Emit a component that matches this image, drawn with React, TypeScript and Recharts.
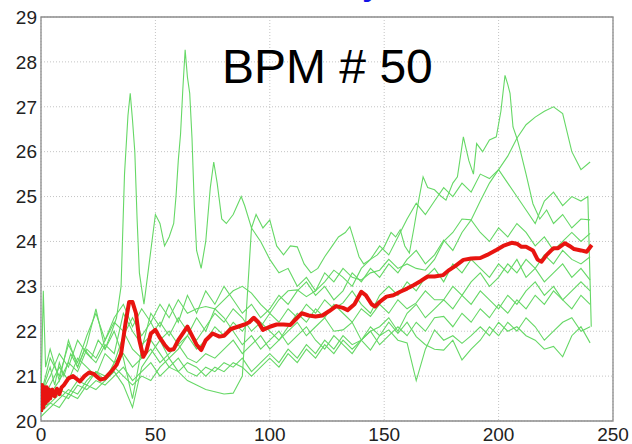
import React from 'react';
import { LineChart, Line, XAxis, YAxis, CartesianGrid, ReferenceArea } from 'recharts';

const X_TICKS = [0, 50, 100, 150, 200, 250];
const Y_TICKS = [20, 21, 22, 23, 24, 25, 26, 27, 28, 29];
const TITLE = 'BPM # 50';
const TOP_TEXT = 'Stability';

const X4 = [0, 4, 8, 12, 16, 20, 24, 28, 32, 36, 40, 44, 48, 52, 56, 60, 64, 68, 72, 76, 80, 84, 88, 92, 96, 100, 104, 108, 112, 116, 120, 124, 128, 132, 136, 140, 144, 148, 152, 156, 160, 164, 168, 172, 176, 180, 184, 188, 192, 196, 200, 204, 208, 212, 216, 220, 224, 228, 232, 236, 240];

const G1_X = [0, 2, 4, 6, 8, 10, 13, 16, 19, 22, 25, 28, 31, 33, 35, 36.5, 38, 39, 40, 41, 42, 43, 45, 47, 50, 52, 54, 56, 58, 59, 60, 61, 62, 63, 64, 65, 66, 67, 68, 70, 72, 74, 75.5, 77, 79, 81, 84, 87.5, 89, 92, 94, 97, 100, 103, 106, 109, 112, 115, 118, 121, 124, 127, 130, 133, 135, 137, 139, 141, 144, 147, 150, 153, 155, 157, 159, 161, 163, 165, 167, 169, 172, 175, 177, 180, 182, 184.6, 187, 189, 190.4, 193, 196, 199, 201, 202.8, 204, 205, 206.3, 208, 209.4, 212, 215, 218, 221, 224, 228, 232, 236, 240];
const G1_Y = [20.5, 20.9, 21.2, 20.8, 21.3, 21.0, 21.5, 21.2, 21.6, 21.4, 21.8, 21.6, 22.0, 22.3, 23.0, 25.5, 26.8, 27.3, 26.7, 26.0, 24.5, 23.3, 22.6, 23.4, 24.6, 24.4, 23.9, 24.1, 24.4, 25.0, 25.8, 26.4, 27.4, 28.27, 27.66, 27.3, 26.3, 24.8, 23.8, 23.4, 24.0, 25.2, 25.77, 25.3, 24.5, 24.4, 24.6, 25.0, 24.8, 24.3, 24.6, 24.3, 24.48, 23.9, 23.7, 23.9, 23.88, 23.5, 23.3, 23.4, 23.66, 23.88, 24.1, 24.2, 24.33, 24.0, 23.66, 23.5, 23.6, 23.7, 23.88, 24.2, 24.1, 24.26, 23.9, 23.74, 24.3, 24.9, 25.44, 25.2, 25.15, 25.0, 24.92, 25.3, 25.44, 26.33, 25.8, 25.5, 26.18, 26.0, 26.26, 26.33, 26.9, 27.7, 27.5, 27.3, 26.55, 26.3, 26.04, 25.5, 24.84, 24.5, 24.7, 24.4, 24.6, 24.3, 24.5, 24.48];

const G2_Y = [20.3, 20.6, 20.9, 21.3, 21.1, 21.6, 21.4, 21.8, 22.2, 22.0, 21.6, 21.4, 21.8, 21.5, 21.2, 21.1, 20.9, 20.8, 20.7, 20.65, 20.6, 20.62, 21.0, 24.3, 24.0, 23.6, 23.3, 23.4, 23.0, 23.2, 22.9, 23.3, 23.1, 23.4, 23.2, 23.14, 23.3, 23.36, 23.6, 23.4, 23.5, 23.4, 23.36, 23.6, 24.0, 24.2, 24.5, 24.48, 24.9, 25.3, 25.6, 25.9, 26.3, 26.6, 26.77, 26.9, 27.0, 26.85, 26.0, 25.6, 25.77];

const G3_X = [0, 4, 8, 12, 16, 20, 24, 28, 32, 36, 40, 44, 48, 52, 56, 60, 64, 68, 72, 76, 80, 84, 88, 92, 96, 100, 104, 108, 112, 116, 120, 124, 128, 132, 136, 140, 144, 148, 152, 156, 160, 164, 168, 172, 176, 180, 184, 188, 192, 196, 200, 204, 208, 212, 216, 220, 224, 228, 232, 236, 239, 240.5];
const G3_Y = [20.6, 21.4, 21.0, 21.7, 21.3, 21.9, 22.4, 21.8, 22.3, 22.6, 22.1, 22.5, 22.2, 22.6, 22.3, 22.7, 22.4, 22.5, 22.55, 22.5, 22.7, 22.9, 23.0, 22.85, 22.6, 22.4, 22.7, 22.9, 22.92, 22.77, 22.9, 23.1, 23.36, 23.2, 23.0, 23.4, 23.6, 23.9, 23.7, 24.1, 24.5, 24.85, 24.6, 24.9, 25.2, 25.0, 25.3, 25.1, 25.5, 25.4, 25.6, 25.3, 25.0, 24.7, 24.4, 24.9, 25.1, 24.8, 25.0, 24.9, 25.0, 22.1];

const G4_Y = [20.4, 20.8, 21.2, 20.9, 21.4, 21.2, 21.0, 21.5, 21.3, 21.9, 22.3, 21.9, 22.2, 21.8, 22.0, 21.7, 21.9, 21.6, 21.8, 22.1, 21.9, 22.2, 22.0, 22.3, 22.1, 22.4, 22.2, 22.5, 22.3, 22.6, 22.4, 22.7, 22.5, 22.63, 22.9, 22.6, 22.4, 22.8, 23.0, 22.8, 23.1, 22.9, 23.2, 23.4, 23.1, 23.5, 23.3, 23.6, 23.4, 23.2, 23.5, 23.3, 23.6, 23.2, 23.4, 23.1, 23.3, 23.5, 23.2, 23.4, 23.14];

const G5_Y = [20.2, 20.5, 20.7, 20.6, 20.9, 20.8, 21.1, 20.9, 21.3, 21.5, 21.2, 21.4, 21.6, 21.3, 21.5, 21.7, 21.4, 21.3, 21.5, 21.4, 21.6, 21.8, 21.5, 21.7, 21.9, 21.6, 21.8, 22.0, 22.2, 21.9, 22.1, 22.3, 22.0, 22.03, 22.2, 21.8, 22.0, 22.1, 22.3, 22.0, 22.4, 22.6, 22.3, 22.5, 22.7, 22.5, 22.8, 22.6, 22.9, 22.7, 22.5, 22.8, 22.6, 22.9, 23.1, 22.8, 23.0, 22.7, 22.9, 23.1, 22.9];

const G6_Y = [20.3, 20.4, 20.6, 20.5, 20.8, 20.7, 20.9, 20.8, 21.0, 21.2, 20.9, 21.1, 21.3, 21.0, 21.2, 21.4, 21.1, 21.0, 21.2, 21.1, 21.3, 21.2, 21.4, 21.1, 21.3, 21.5, 21.3, 21.6, 21.4, 21.7, 21.5, 21.8, 21.6, 21.9, 21.7, 21.8, 21.58, 21.9, 22.03, 21.8, 21.74, 20.9, 21.6, 22.03, 21.8, 21.9, 21.73, 21.9, 22.1, 21.9, 22.2, 22.0, 22.1, 21.9, 21.8, 21.6, 21.66, 21.43, 21.9, 22.1, 21.74];

const G7_Y = [20.1, 20.3, 20.5, 20.7, 20.6, 20.9, 21.1, 21.0, 21.2, 21.0, 20.8, 21.0, 20.9, 21.2, 21.4, 21.1, 21.3, 21.2, 21.0, 21.2, 21.1, 21.3, 21.2, 21.0, 21.2, 21.4, 21.2, 21.5, 21.3, 21.6, 21.4, 21.7, 21.5, 21.8, 21.6, 21.8, 22.1, 21.9, 22.2, 21.95, 22.2, 21.88, 21.7, 21.6, 21.58, 21.8, 21.36, 21.6, 21.8, 22.1, 21.9, 22.2, 22.0, 22.3, 22.1, 21.8, 22.0, 22.2, 22.3, 22.0, 22.1];

const G8_X = [0, 1, 2, 4, 8, 12, 16, 20, 24, 28, 32, 36, 40, 44, 48, 52, 56, 60, 64, 68, 72, 76, 80, 84, 88, 92, 96, 100, 104, 108, 112, 116, 120, 124, 128, 132, 136, 140, 144, 148, 152, 156, 160, 164, 168, 172, 176, 180, 184, 188, 192, 196, 200, 204, 208, 212, 216, 220, 224, 228, 232, 236, 240];
const G8_Y = [20.5, 22.9, 21.2, 21.6, 20.9, 21.8, 21.2, 21.7, 22.5, 21.6, 22.0, 21.4, 20.5, 21.6, 22.4, 22.1, 22.6, 22.2, 22.8, 22.4, 22.9, 22.6, 23.0, 22.7, 22.4, 22.6, 22.3, 22.5, 22.8, 22.6, 22.9, 23.1, 22.8, 23.0, 22.7, 22.9, 23.3, 23.1, 23.4, 23.2, 23.5, 23.3, 23.6, 23.8, 23.5, 23.7, 24.03, 23.8, 24.2, 24.48, 24.2, 24.0, 24.3, 24.1, 24.4, 24.2, 23.9, 24.1, 23.8, 24.0, 24.2, 24.0, 24.18];

const G9_Y = [20.6, 21.0, 21.5, 21.2, 21.8, 21.5, 21.3, 21.7, 21.5, 22.4, 22.0, 21.7, 21.9, 22.2, 21.9, 22.3, 22.0, 21.8, 22.1, 22.4, 22.2, 22.5, 22.3, 22.0, 22.2, 22.0, 21.8, 22.1, 22.4, 22.2, 22.5, 22.3, 22.6, 22.4, 22.2, 22.5, 22.33, 22.6, 22.4, 22.7, 22.5, 22.63, 22.9, 22.7, 22.7, 23.0, 22.8, 23.1, 23.3, 23.0, 23.2, 23.5, 23.3, 23.6, 23.4, 23.7, 23.5, 23.8, 23.6, 23.5, 23.66];

const G10_Y = [20.2, 20.4, 20.3, 20.6, 20.5, 20.8, 20.7, 20.9, 21.1, 20.8, 20.3, 21.2, 21.5, 21.8, 21.4, 21.6, 21.9, 22.3, 22.0, 22.5, 22.3, 22.0, 21.7, 21.9, 21.6, 21.8, 22.0, 21.7, 21.9, 22.1, 21.8, 21.6, 21.9, 21.7, 21.5, 21.8, 22.0, 21.7, 21.9, 22.1, 21.9, 22.2, 22.0, 22.3, 22.33, 22.1, 22.4, 22.2, 22.5, 22.3, 22.6, 22.4, 22.7, 22.5, 22.8, 22.6, 22.9, 22.7, 22.5, 22.8, 22.6];

const RED_X = [0, 0.5, 1, 1.5, 2, 2.5, 3, 3.5, 4, 5, 6, 7, 8, 9, 10, 12, 14, 17, 19, 21, 23, 26, 28, 31, 33, 35, 37, 38.5, 40, 41.5, 43, 44.7, 46, 48, 50, 52, 54, 56, 58, 60, 62, 64, 66, 68, 70, 72, 75, 78, 80, 83, 86, 89, 91, 93, 95, 97, 100, 103, 106, 109, 112, 114, 117, 120, 123, 126, 129, 132, 134, 137, 140, 142, 144.5, 146, 148, 151, 154, 157, 160, 163, 166, 169, 172, 175.8, 178, 181, 184.6, 188, 192, 195, 199, 202, 205.7, 208, 210, 212, 215, 217, 218.8, 221, 224, 226, 229, 231, 233, 236, 238.5, 240.7];
const RED_Y = [20.2, 20.8, 20.3, 20.75, 20.4, 20.75, 20.45, 20.7, 20.5, 20.7, 20.55, 20.72, 20.6, 20.75, 20.8, 20.95, 21.0, 20.88, 21.0, 21.08, 21.05, 20.92, 20.95, 21.12, 21.25, 21.5, 22.2, 22.65, 22.65, 22.4, 21.8, 21.43, 21.55, 21.95, 22.03, 21.85, 21.7, 21.58, 21.6, 21.8, 21.95, 22.1, 21.9, 21.7, 21.58, 21.8, 21.95, 21.88, 21.9, 22.05, 22.1, 22.15, 22.2, 22.3, 22.2, 22.03, 22.1, 22.15, 22.15, 22.14, 22.3, 22.4, 22.35, 22.33, 22.35, 22.45, 22.56, 22.52, 22.47, 22.6, 22.88, 22.8, 22.6, 22.55, 22.65, 22.77, 22.8, 22.88, 22.95, 23.03, 23.12, 23.22, 23.22, 23.25, 23.35, 23.45, 23.59, 23.62, 23.63, 23.7, 23.81, 23.9, 23.97, 23.95, 23.88, 23.88, 23.8, 23.6, 23.55, 23.7, 23.85, 23.85, 23.96, 23.9, 23.83, 23.8, 23.77, 23.92];

const GREEN_SERIES = [
  { name: 'g1', xs: G1_X, ys: G1_Y },
  { name: 'g2', xs: X4, ys: G2_Y },
  { name: 'g3', xs: G3_X, ys: G3_Y },
  { name: 'g4', xs: X4, ys: G4_Y },
  { name: 'g5', xs: X4, ys: G5_Y },
  { name: 'g6', xs: X4, ys: G6_Y },
  { name: 'g7', xs: X4, ys: G7_Y },
  { name: 'g8', xs: G8_X, ys: G8_Y },
  { name: 'g9', xs: X4, ys: G9_Y },
  { name: 'g10', xs: X4, ys: G10_Y },
];

const toData = (xs: number[], ys: number[]) => xs.map((x, i) => ({ x, y: ys[i] }));

const FONT = 'Arial, "Liberation Sans", Helvetica, sans-serif';

export default function App() {
  return (
    <div style={{ position: 'absolute', left: 0, top: 0, width: 632, height: 444, background: '#ffffff', fontFamily: FONT }}>
      <LineChart width={632} height={444} margin={{ top: 17, right: 19, left: 0, bottom: 0 }}>
        <CartesianGrid stroke="#c4c4c4" strokeDasharray="1 2" />
        <XAxis
          dataKey="x"
          type="number"
          domain={[0, 250]}
          ticks={X_TICKS}
          height={23}
          tickSize={0}
          tickMargin={7}
          axisLine={false}
          allowDataOverflow
          tick={{ fill: '#222', fontSize: 19, fontFamily: FONT }}
        />
        <YAxis
          type="number"
          domain={[20, 29]}
          ticks={Y_TICKS}
          width={41}
          tickSize={0}
          tickMargin={4}
          axisLine={false}
          allowDataOverflow
          tick={{ fill: '#222', fontSize: 19, fontFamily: FONT }}
        />
        {GREEN_SERIES.map((s) => (
          <Line
            key={s.name}
            data={toData(s.xs, s.ys)}
            dataKey="y"
            type="linear"
            stroke="#66d866"
            strokeWidth={1.1}
            dot={false}
            activeDot={false}
            isAnimationActive={false}
          />
        ))}
        <Line
          data={toData(RED_X, RED_Y)}
          dataKey="y"
          type="linear"
          stroke="#e81410"
          strokeWidth={4}
          strokeLinejoin="round"
          dot={false}
          activeDot={false}
          isAnimationActive={false}
        />
        <ReferenceArea x1={0} x2={250} y1={20} y2={29} fill="none" fillOpacity={0} stroke="#8c8c8c" strokeWidth={1.3} />
      </LineChart>
      <svg width={632} height={444} style={{ position: 'absolute', left: 0, top: 0, pointerEvents: 'none' }}>
        <text x={380} y={-5} textAnchor="end" fontSize={32} fontWeight="bold" fill="#1212e6" fontFamily={FONT}>{TOP_TEXT}</text>
        <text x={222} y={83} fontSize={48} fill="#000" fontFamily={FONT}>{TITLE}</text>
      </svg>
    </div>
  );
}
